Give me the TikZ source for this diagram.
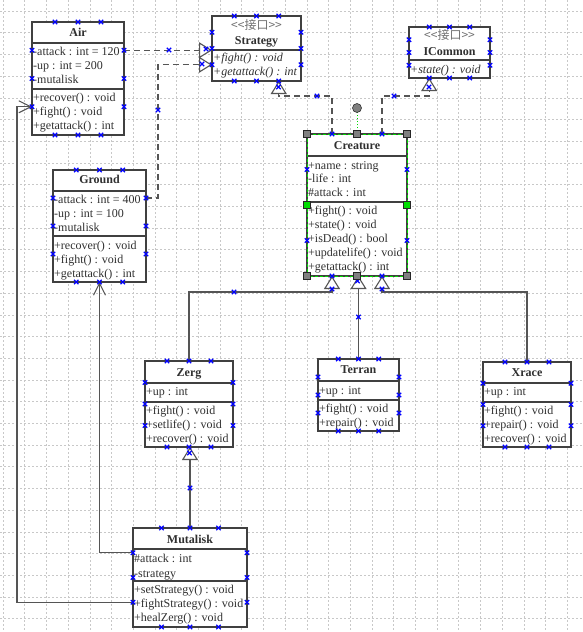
\documentclass[tikz,border=0pt]{standalone}
\usepackage{fontspec}
\setmainfont{Liberation Serif}
\newfontfamily\cjk{Noto Sans CJK SC}
\usetikzlibrary{arrows.meta,calc}
\definecolor{boxc}{HTML}{404040}
\definecolor{txtc}{HTML}{303030}
\definecolor{linec}{HTML}{555555}
\definecolor{gridc}{HTML}{C8C8C8}
\definecolor{mkc}{HTML}{0000FF}
\definecolor{selc}{HTML}{00DD00}
\definecolor{stc}{HTML}{707070}
\definecolor{hdlc}{HTML}{808080}
\newcommand\xmk[1]{\draw[xmark, shift={(#1)}] (-2.2,-2.2) -- (2.2,2.2) (-2.2,2.2) -- (2.2,-2.2);}
\newcommand\boxmarks[2]{\foreach \f in {#2}{\xmk{$(#1.north west)!\f!(#1.north east)$}\xmk{$(#1.south west)!\f!(#1.south east)$}\xmk{$(#1.north west)!\f!(#1.south west)$}\xmk{$(#1.north east)!\f!(#1.south east)$}}}
\newcommand\sepl[2]{\draw[sepline] (#1.west |- 0,#2) -- (#1.east |- 0,#2);}
\begin{document}
\begin{tikzpicture}[x=1pt,y=-1pt,
 clsbox/.style={draw=boxc, line width=1.2pt, fill=white, inner sep=0pt, outer sep=0pt, anchor=north west},
 sepline/.style={draw=boxc, line width=1.2pt},
 txt/.style={inner sep=0pt, anchor=west, text height=9pt, text depth=1pt, text=txtc, font=\fontsize{12}{14}\selectfont},
 itx/.style={txt, font=\itshape\fontsize{12}{14}\selectfont},
 ttl/.style={txt, anchor=center, font=\bfseries\fontsize{12}{14}\selectfont},
 ste/.style={txt, anchor=center, text=stc, font=\cjk\fontsize{12}{14}\selectfont},
 real/.style={draw=linec, line width=1.1pt, dash pattern=on 6pt off 4pt, -{Triangle[fill=white, length=13pt, width=16pt]}},
 gen/.style={draw=linec, line width=1.1pt, -{Triangle[fill=white, length=13pt, width=16pt]}},
 assoc/.style={draw=linec, line width=1.1pt, -{Straight Barb[length=12pt, width=12pt]}},
 xmark/.style={draw=mkc, line width=1.3pt},
 gridline/.style={draw=gridc, line width=0.6pt, dash pattern=on 2pt off 2pt},
]
\fill[white] (0,0) rectangle (583,632);
\useasboundingbox (0,0) rectangle (583,632);
\foreach \i in {0,...,26} {\draw[gridline] (3+21.7*\i,0) -- (3+21.7*\i,632);}
\foreach \j in {0,...,28} {\draw[gridline] (0,11+21.7*\j) -- (583,11+21.7*\j);}

% ---- class boxes
\node[clsbox, minimum width=92pt, minimum height=113pt] (air) at (32,22) {};
\node[clsbox, minimum width=89pt, minimum height=65pt] (strat) at (212,16) {};
\node[clsbox, minimum width=81pt, minimum height=51pt] (icom) at (409,27) {};
\node[clsbox, minimum width=100pt, minimum height=142pt] (crea) at (307,134) {};
\node[clsbox, minimum width=93pt, minimum height=112pt] (ground) at (53,170) {};
\node[clsbox, minimum width=88pt, minimum height=86pt] (zerg) at (145,361) {};
\node[clsbox, minimum width=81pt, minimum height=72pt] (terran) at (318,359) {};
\node[clsbox, minimum width=88pt, minimum height=85pt] (xrace) at (483,362) {};
\node[clsbox, minimum width=114pt, minimum height=99pt] (muta) at (133,528) {};

\sepl{air}{43} \sepl{air}{89}
\sepl{strat}{50}
\sepl{icom}{60}
\sepl{crea}{156} \sepl{crea}{202}
\sepl{ground}{191} \sepl{ground}{236}
\sepl{zerg}{383} \sepl{zerg}{402}
\sepl{terran}{381} \sepl{terran}{400}
\sepl{xrace}{383} \sepl{xrace}{402}
\sepl{muta}{549} \sepl{muta}{581}

% ---- connectors
\coordinate (airR) at ($(air.north east)!0.25!(air.south east)$);
\draw[real] (airR) -- (airR -| strat.west);
\draw[real] ($(ground.north east)!0.25!(ground.south east)$) -- ++(12,0) |- ($(strat.north west)!0.75!(strat.south west)$);
\draw[real] ($(crea.north west)!0.25!(crea.north east)$) -- ++(0,-38) -| ($(strat.south west)!0.75!(strat.south east)$);
\draw[real] ($(crea.north west)!0.75!(crea.north east)$) -- ++(0,-38) -| ($(icom.south west)!0.25!(icom.south east)$);
\draw[gen] (zerg.north) -- ++(0,-69) -| ($(crea.south west)!0.25!(crea.south east)$);
\draw[gen] (terran.north) -- (terran.north |- crea.south);
\draw[gen] (xrace.north) -- ++(0,-70) -| ($(crea.south west)!0.75!(crea.south east)$);
\draw[gen] (muta.north) -- (muta.north |- zerg.south);
\draw[assoc] ($(muta.north west)!0.25!(muta.south west)$) -| (ground.south);
\draw[assoc] ($(muta.north west)!0.75!(muta.south west)$) -- ++(-116,0) |- ($(air.north west)!0.75!(air.south west)$);

% ---- texts
\node[ttl] (air-t) at (78,32.5) {Air};
\node[txt] (air-a1) at (33,51.5) {-attack : int = 120};
\node[txt] (air-a2) at (33,65.5) {-up : int = 200};
\node[txt] (air-a3) at (33,79.5) {-mutalisk};
\node[txt] (air-o1) at (33,97.5) {+recover() : void};
\node[txt] (air-o2) at (33,111.5) {+fight() : void};
\node[txt] (air-o3) at (33,125.5) {+getattack() : int};

\node[ste] (strat-s) at (256.5,25) {<{}<接口>{}>};
\node[ttl] (strat-t) at (256.5,40.5) {Strategy};
\node[itx] (strat-o1) at (213,57.5) {+fight() : void};
\node[itx] (strat-o2) at (213,71.5) {+getattack() : int};

\node[ste] (icom-s) at (449.5,35.5) {<{}<接口>{}>};
\node[ttl] (icom-t) at (449.5,51.5) {ICommon};
\node[itx] (icom-o1) at (410,69) {+state() : void};

\node[ttl] (crea-t) at (357,145) {Creature};
\node[txt] (crea-a1) at (308,165) {+name : string};
\node[txt] (crea-a2) at (308,178.5) {-life : int};
\node[txt] (crea-a3) at (308,192.5) {\#attack : int};
\node[txt] (crea-o1) at (308,210) {+fight() : void};
\node[txt] (crea-o2) at (308,224) {+state() : void};
\node[txt] (crea-o3) at (308,238.5) {+isDead() : bool};
\node[txt] (crea-o4) at (308,252.5) {+updatelife() : void};
\node[txt] (crea-o5) at (308,266.5) {+getattack() : int};

\node[ttl] (ground-t) at (99.5,179.5) {Ground};
\node[txt] (ground-a1) at (54,199) {-attack : int = 400};
\node[txt] (ground-a2) at (54,213) {-up : int = 100};
\node[txt] (ground-a3) at (54,227.5) {-mutalisk};
\node[txt] (ground-o1) at (54,245.5) {+recover() : void};
\node[txt] (ground-o2) at (54,259.5) {+fight() : void};
\node[txt] (ground-o3) at (54,273.5) {+getattack() : int};

\node[ttl] (zerg-t) at (189,372.5) {Zerg};
\node[txt] (zerg-a1) at (146,391.5) {+up : int};
\node[txt] (zerg-o1) at (146,410.5) {+fight() : void};
\node[txt] (zerg-o2) at (146,424.5) {+setlife() : void};
\node[txt] (zerg-o3) at (146,438.5) {+recover() : void};

\node[ttl] (terran-t) at (358.5,369.5) {Terran};
\node[txt] (terran-a1) at (319,390) {+up : int};
\node[txt] (terran-o1) at (319,408) {+fight() : void};
\node[txt] (terran-o2) at (319,422) {+repair() : void};

\node[ttl] (xrace-t) at (527,372.5) {Xrace};
\node[txt] (xrace-a1) at (484,391.5) {+up : int};
\node[txt] (xrace-o1) at (484,410.5) {+fight() : void};
\node[txt] (xrace-o2) at (484,424.5) {+repair() : void};
\node[txt] (xrace-o3) at (484,438.5) {+recover() : void};

\node[ttl] (muta-t) at (190,539) {Mutalisk};
\node[txt] (muta-a1) at (134,558) {\#attack : int};
\node[txt] (muta-a2) at (134,573) {-strategy};
\node[txt] (muta-o1) at (134,589) {+setStrategy() : void};
\node[txt] (muta-o2) at (134,603.5) {+fightStrategy() : void};
\node[txt] (muta-o3) at (134,617.5) {+healZerg() : void};

% ---- selection of Creature
\draw[selc, line width=1pt, dash pattern=on 3pt off 2pt] (crea.north west) rectangle (crea.south east);
\draw[selc, line width=0.8pt, dash pattern=on 1.5pt off 1.5pt] (crea.north) -- ++(0,-26);
\filldraw[fill=hdlc, draw=black!80, line width=0.6pt] ($(crea.north)+(0,-26)$) circle (4.5);

% ---- connection markers
\boxmarks{air}{0.25,0.5,0.75}
\boxmarks{strat}{0.25,0.5,0.75}
\boxmarks{icom}{0.25,0.5,0.75}
\boxmarks{crea}{0.25,0.75}
\boxmarks{ground}{0.25,0.5,0.75}
\boxmarks{zerg}{0.25,0.5,0.75}
\boxmarks{terran}{0.25,0.5,0.75}
\boxmarks{xrace}{0.25,0.5,0.75}
\boxmarks{muta}{0.25,0.5,0.75}
\xmk{169,50} \xmk{158,110} \xmk{317,96} \xmk{394,96}
\xmk{234,292} \xmk{358.5,317} \xmk{190,488}
\xmk{206,49} \xmk{202,64} \xmk{278.5,87} \xmk{429,87}
\xmk{332,289} \xmk{357.5,281} \xmk{382,289} \xmk{189.5,453}

% ---- selection handles
\foreach \a in {north west,north,north east,south west,south,south east}
  {\filldraw[fill=hdlc, draw=black!85, line width=0.6pt] ($(crea.\a)+(-3.5,-3.5)$) rectangle ++(7,7);}
\foreach \a in {west,east}
  {\filldraw[fill=selc, draw=black!85, line width=0.6pt] ($(crea.\a)+(-3.5,-3.5)$) rectangle ++(7,7);}
\end{tikzpicture}
\end{document}
